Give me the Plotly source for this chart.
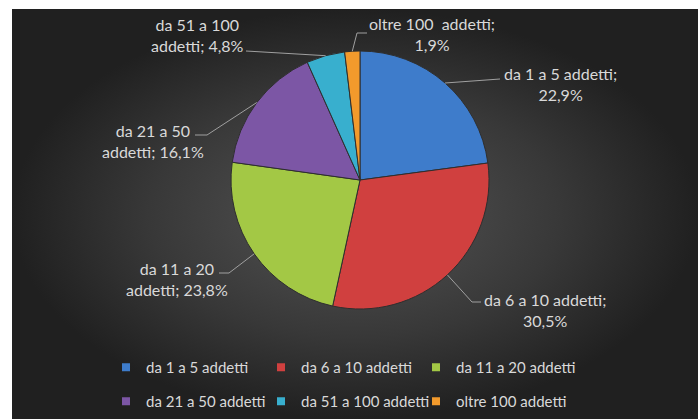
import math
import plotly.graph_objects as go

# ---------------- data ----------------
categories = ["da 1 a 5 addetti", "da 6 a 10 addetti", "da 11 a 20 addetti",
              "da 21 a 50 addetti", "da 51 a 100 addetti", "oltre 100 addetti"]
values = [22.9, 30.5, 23.8, 16.1, 4.8, 1.9]
label_heads = ["da 1 a 5 addetti;", "da 6 a 10 addetti;", "da 11 a 20<br>addetti;",
               "da 21 a 50<br>addetti;", "da 51 a 100<br>addetti;", "oltre 100  addetti;"]
label_breaks = ["<br>", "<br>", " ", " ", " ", "<br>"]
title_text = "Graf. 1.2 Dimensione"

# ---------------- style ----------------
W, H = 698, 419
colors = ["#3E7CCB", "#D0403F", "#A3C845", "#7C56A5", "#38AFCE", "#F29A2C"]
FONT = "Lato"
TXT = "#D9D9D9"
PIE_CX, PIE_CY, PIE_R = 360, 180, 129
PANEL = (12, 9, W, H)
# label centre + leader waypoints (pixels), per slice
label_pos = [(560, 84), (545, 310), (177, 279), (153, 141), (197, 35), (432, 34)]
leader_pts = [[(500, 79)], [(472, 302), (481, 302)], [(229, 273), (219, 273)],
              [(207, 135), (195, 135)], [(246, 51)], [(357, 33), (367, 33)]]
LEGEND_ROWS = [("legend", 351), ("legend2", 385)]   # legend id, top pixel
LEGEND_LEFT = 106
ENTRY_W = [110, 110, 150]   # per column

fig = go.Figure()

# background panel with radial gradient
x0, y0, x1, y1 = PANEL
fig.add_trace(go.Scatter(
    x=[x0, x1, x1, x0, x0], y=[y0, y0, y1, y1, y0], mode="lines",
    fill="toself", line=dict(width=0),
    fillgradient=dict(type="radial",
                      colorscale=[[0, "#555555"], [0.6, "#383838"], [1, "#202020"]]),
    hoverinfo="skip", showlegend=False))

fig.add_trace(go.Pie(
    labels=categories, values=values, sort=False, direction="clockwise",
    rotation=0, textinfo="none", hoverinfo="label+percent",
    marker=dict(colors=colors, line=dict(color="#2E2E2E", width=1)),
    domain=dict(x=[(PIE_CX - PIE_R) / W, (PIE_CX + PIE_R) / W],
                y=[1 - (PIE_CY + PIE_R) / H, 1 - (PIE_CY - PIE_R) / H]),
    showlegend=False))

# legend entries (two rows of three, as in the original)
for i, (name, col) in enumerate(zip(categories, colors)):
    fig.add_trace(go.Scatter(
        x=[None], y=[None], mode="markers", name=name,
        marker=dict(symbol="square", size=8, color=col),
        legend=LEGEND_ROWS[i // 3][0], legendwidth=ENTRY_W[i % 3],
        showlegend=True, hoverinfo="skip"))

# labels and leader lines computed from slice mid-angles
total = sum(values)
cum = 0.0
annotations = []
shapes = []
for i, v in enumerate(values):
    mid = (cum + v / 2) / total * 2 * math.pi
    cum += v
    ex = PIE_CX + PIE_R * math.sin(mid)
    ey = PIE_CY - PIE_R * math.cos(mid)
    pct = f"{v / total * 100:.1f}%".replace(".", ",")
    text = label_heads[i] + label_breaks[i] + pct
    tx, ty = label_pos[i]
    annotations.append(dict(x=tx, y=ty, xref="x", yref="y", text=text,
                            showarrow=False, align="center",
                            font=dict(family=FONT, size=16, color=TXT)))
    pts = [(ex, ey)] + leader_pts[i]
    path = "M " + " L ".join(f"{px:.1f},{py:.1f}" for px, py in pts)
    shapes.append(dict(type="path", path=path, xref="x", yref="y",
                       line=dict(color="#A0A0A0", width=1), layer="above"))

annotations.append(dict(x=9, y=6, xref="x", yref="y", xanchor="left", yanchor="bottom",
                        text=f"<b>{title_text}</b>", showarrow=False,
                        font=dict(family=FONT, size=36, color="#3A3A3A")))

legend_common = dict(orientation="h", xanchor="left", yanchor="top",
                     x=LEGEND_LEFT / W,
                     font=dict(family=FONT, size=15, color=TXT),
                     bgcolor="rgba(0,0,0,0)")

fig.update_layout(
    width=W, height=H, margin=dict(l=0, r=0, t=0, b=0, autoexpand=False),
    paper_bgcolor="white", plot_bgcolor="rgba(0,0,0,0)",
    xaxis=dict(range=[0, W], visible=False, fixedrange=True),
    yaxis=dict(range=[H, 0], visible=False, fixedrange=True),
    annotations=annotations, shapes=shapes,
    legend=dict(y=1 - LEGEND_ROWS[0][1] / H, **legend_common),
    legend2=dict(y=1 - LEGEND_ROWS[1][1] / H, **legend_common),
)

fig.write_html("out.html", config={"displayModeBar": False},
               post_script="document.body.style.margin='0';")
